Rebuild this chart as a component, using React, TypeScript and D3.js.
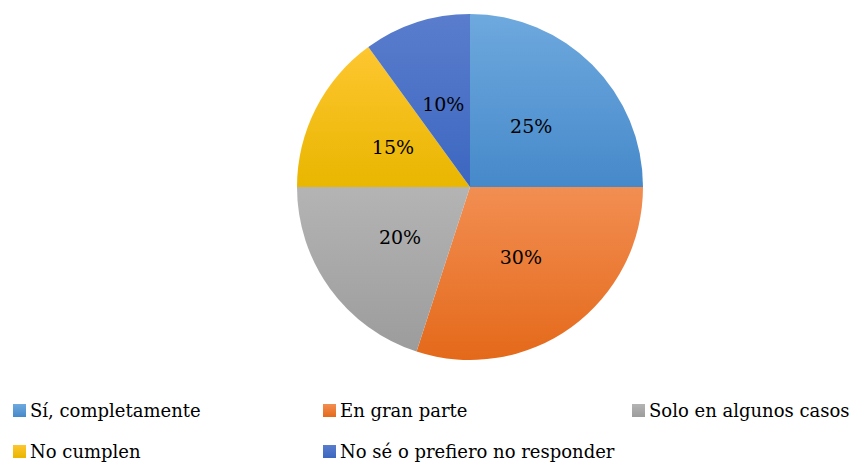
import React from "react";
import * as d3 from "d3";

const categories = ["Sí, completamente", "En gran parte", "Solo en algunos casos", "No cumplen", "No sé o prefiero no responder"];
const values = [25, 30, 20, 15, 10];
const labels = ["25%", "30%", "20%", "15%", "10%"];
const topColors = ["#6ea9de", "#f28e52", "#b4b4b4", "#fec630", "#5a7dcd"];
const bottomColors = ["#4689ca", "#e4691a", "#9c9c9c", "#e9b600", "#3c67c0"];
const legendCols = [0, 1, 2, 0, 1];
const legendRows = [0, 0, 0, 1, 1];

const FONT = "'DejaVu Serif', serif";

export default function App() {
  const W = 858, H = 464;
  const cx = 470, cy = 187, R = 173;
  const pie = d3.pie<number>().sort(null).value((d) => d)(values);
  const arc = d3.arc<d3.PieArcDatum<number>>().innerRadius(0).outerRadius(R);
  const labelArc = d3.arc<d3.PieArcDatum<number>>().innerRadius(R * 0.5).outerRadius(R * 0.5);
  const colX = [13, 323, 632];
  const rowY = [417, 458];
  return (
    <svg width={W} height={H} style={{ position: "absolute", left: 0, top: 0, background: "#fff" }}>
      <defs>
        {categories.map((c, i) => (
          <linearGradient key={i} id={`g${i}`} x1="0" y1="0" x2="0" y2="1">
            <stop offset="0" stopColor={topColors[i]} />
            <stop offset="1" stopColor={bottomColors[i]} />
          </linearGradient>
        ))}
      </defs>
      <g transform={`translate(${cx},${cy})`}>
        {pie.map((p, i) => (
          <path key={i} d={arc(p) || ""} fill={`url(#g${i})`} stroke="none" />
        ))}
        {pie.map((p, i) => {
          const [x, y] = labelArc.centroid(p);
          return (
            <text key={i} x={x} y={y} dy="0.35em" textAnchor="middle" style={{ fontFamily: FONT, fontSize: "19px" }} fill="#000">
              {labels[i]}
            </text>
          );
        })}
      </g>
      {categories.map((c, i) => (
        <g key={i} transform={`translate(${colX[legendCols[i]]},${rowY[legendRows[i]]})`}>
          <rect x={0} y={-13} width={13} height={13} fill={`url(#g${i})`} />
          <text x={17} y={0} style={{ fontFamily: FONT, fontSize: "18px" }} fill="#000">
            {c}
          </text>
        </g>
      ))}
    </svg>
  );
}
